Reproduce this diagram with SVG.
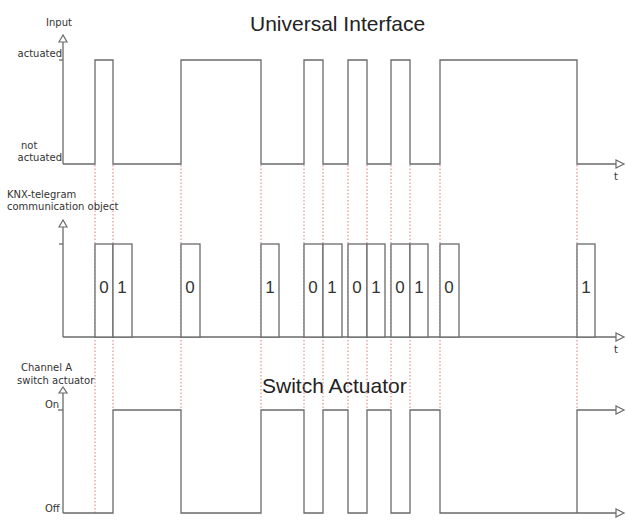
<svg xmlns="http://www.w3.org/2000/svg" width="626" height="524" viewBox="0 0 626 524">
<defs>
<style>
.w{fill:none;stroke:#6a6a6a;stroke-width:1.3}
.ax{fill:none;stroke:#6a6a6a;stroke-width:1.3}
.ar{fill:#fff;stroke:#6a6a6a;stroke-width:1.2}
.d{stroke:#e07a7a;stroke-width:1;stroke-dasharray:1.5 2}
.lb{font-family:"DejaVu Sans",sans-serif;font-size:10px;fill:#333}
.tt{font-family:"Liberation Sans",Arial,sans-serif;font-size:21px;fill:#222}
.bit{font-family:"Liberation Sans",Arial,sans-serif;font-size:17px;fill:#333;text-anchor:middle}
.r{fill:#fff;stroke:#6a6a6a;stroke-width:1.3}
</style>
</defs>
<rect width="626" height="524" fill="#fff"/>

<g id="titles">
<text class="tt" x="250" y="31">Universal Interface</text>
<text class="tt" x="262" y="393">Switch Actuator</text>
</g>

<g id="connectors">
<line class="d" x1="95" y1="165" x2="95" y2="513"/>
<line class="d" x1="113" y1="165" x2="113" y2="410"/>
<line class="d" x1="181" y1="165" x2="181" y2="410"/>
<line class="d" x1="261" y1="165" x2="261" y2="410"/>
<line class="d" x1="304" y1="165" x2="304" y2="410"/>
<line class="d" x1="323" y1="165" x2="323" y2="410"/>
<line class="d" x1="348" y1="165" x2="348" y2="410"/>
<line class="d" x1="367" y1="165" x2="367" y2="410"/>
<line class="d" x1="391" y1="165" x2="391" y2="410"/>
<line class="d" x1="410" y1="165" x2="410" y2="410"/>
<line class="d" x1="440" y1="165" x2="440" y2="410"/>
<line class="d" x1="577" y1="165" x2="577" y2="410"/>
</g>

<g id="input-panel">
<text class="lb" x="46" y="26">Input</text>
<text class="lb" x="62" y="57" text-anchor="end">actuated</text>
<text class="lb" x="21" y="149">not</text>
<text class="lb" x="62" y="161" text-anchor="end">actuated</text>
<line class="ax" x1="59" y1="60" x2="63" y2="60"/>
<line class="ax" x1="63" y1="42" x2="63" y2="164"/>
<polygon class="ar" points="63,35 59,42 67,42"/>
<path class="w" d="M63,164 H95 V60 H113 V164 H181 V60 H261 V164 H304 V60 H323 V164 H348 V60 H367 V164 H391 V60 H410 V164 H440 V60 H577 V164 H616"/>
<polygon class="ar" points="624,164 616,160 616,168"/>
<text class="lb" x="614" y="180">t</text>
</g>

<g id="telegram-panel">
<text class="lb" x="7" y="198">KNX-telegram</text>
<text class="lb" x="7" y="210">communication object</text>
<line class="ax" x1="59" y1="244" x2="63" y2="244"/>
<line class="ax" x1="63" y1="227" x2="63" y2="337"/>
<polygon class="ar" points="63,220 59,227 67,227"/>
<line class="ax" x1="63" y1="337" x2="616" y2="337"/>
<polygon class="ar" points="624,337 616,333 616,341"/>
<text class="lb" x="614" y="353">t</text>
<rect class="r" x="95" y="244" width="18" height="93"/>
<rect class="r" x="113" y="244" width="19" height="93"/>
<rect class="r" x="181" y="244" width="19" height="93"/>
<rect class="r" x="261" y="244" width="18" height="93"/>
<rect class="r" x="304" y="244" width="19" height="93"/>
<rect class="r" x="323" y="244" width="19" height="93"/>
<rect class="r" x="348" y="244" width="19" height="93"/>
<rect class="r" x="367" y="244" width="18" height="93"/>
<rect class="r" x="391" y="244" width="19" height="93"/>
<rect class="r" x="410" y="244" width="18" height="93"/>
<rect class="r" x="440" y="244" width="19" height="93"/>
<rect class="r" x="577" y="244" width="18" height="93"/>
<text class="bit" x="104" y="293">0</text>
<text class="bit" x="122" y="293">1</text>
<text class="bit" x="190" y="293">0</text>
<text class="bit" x="270" y="293">1</text>
<text class="bit" x="313" y="293">0</text>
<text class="bit" x="332" y="293">1</text>
<text class="bit" x="357" y="293">0</text>
<text class="bit" x="376" y="293">1</text>
<text class="bit" x="400" y="293">0</text>
<text class="bit" x="419" y="293">1</text>
<text class="bit" x="449" y="293">0</text>
<text class="bit" x="586" y="293">1</text>
</g>

<g id="actuator-panel">
<text class="lb" x="21" y="371">Channel A</text>
<text class="lb" x="17" y="384">switch actuator</text>
<text class="lb" x="45" y="408">On</text>
<text class="lb" x="45" y="512">Off</text>
<line class="ax" x1="58" y1="410" x2="63" y2="410"/>
<line class="ax" x1="63" y1="393" x2="63" y2="513"/>
<polygon class="ar" points="63,387 59,393 67,393"/>
<path class="w" d="M63,513 H113 V410 H181 V513 H261 V410 H304 V513 H323 V410 H348 V513 H367 V410 H391 V513 H410 V410 H440 V513 H616"/>
<polygon class="ar" points="624,513 616,509 616,517"/>
<path class="w" d="M577,513 V410 H616"/>
<polygon class="ar" points="624,410 616,406 616,414"/>
</g>
</svg>
